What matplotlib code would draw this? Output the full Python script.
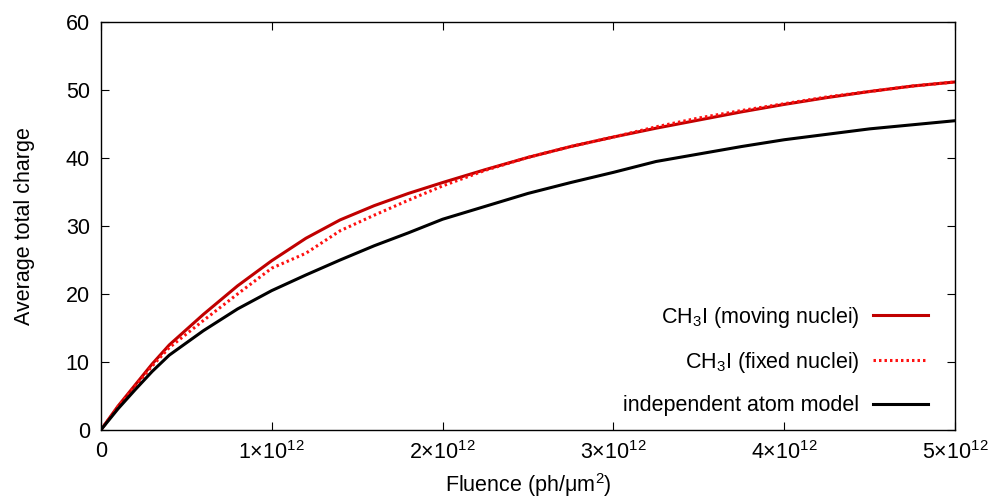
import numpy as np
import matplotlib
matplotlib.use("Agg")
import matplotlib.pyplot as plt

# fluence in units of 1e12 ph/um^2
fluence = [0, 0.1, 0.2, 0.3, 0.4, 0.6, 0.8, 1.0, 1.2, 1.4, 1.6, 1.8, 2.0, 2.25, 2.5,
           2.75, 3.0, 3.25, 3.5, 3.75, 4.0, 4.25, 4.5, 4.75, 5.0]

moving_nuclei = [0, 3.5, 6.6, 9.7, 12.5, 17.0, 21.2, 24.9, 28.2, 30.9, 33.0, 34.8, 36.4,
                 38.3, 40.1, 41.7, 43.1, 44.4, 45.6, 46.8, 47.9, 48.9, 49.8, 50.6, 51.2]
fixed_nuclei = [0, 3.4, 6.4, 9.4, 12.1, 16.1, 20.0, 23.8, 26.0, 29.3, 31.6, 33.8, 35.9,
                38.2, 40.1, 41.7, 43.1, 44.6, 45.9, 47.0, 48.0, 49.0, 49.8, 50.6, 51.2]
independent_atom = [0, 3.1, 5.9, 8.6, 11.0, 14.6, 17.8, 20.5, 22.8, 25.0, 27.1, 29.0, 31.0,
                    32.9, 34.8, 36.4, 37.9, 39.5, 40.6, 41.7, 42.7, 43.5, 44.3, 44.9, 45.5]

labels = ["CH$_3$I (moving nuclei)", "CH$_3$I (fixed nuclei)", "independent atom model"]
xtick_vals = [0, 1, 2, 3, 4, 5]
xtick_labels = ["0"] + [f"{v}\u00d710$^{{12}}$" for v in xtick_vals[1:]]

plt.rcParams["font.family"] = ["Liberation Sans", "DejaVu Sans"]
plt.rcParams["mathtext.default"] = "regular"

fig = plt.figure(figsize=(9.99, 5.04), dpi=100)
ax = fig.add_axes([0.101, 0.147, 0.855, 0.809])

x = np.array(fluence) * 1e12
ax.plot(x, moving_nuclei, color="#c00000", lw=2.2, label=labels[0])
ax.plot(x, fixed_nuclei, color="#ff1010", lw=2.2, linestyle=(0, (0.8, 1.0)), label=labels[1])
ax.plot(x, independent_atom, color="black", lw=2.2, label=labels[2])

ax.set_xlim(0, 5e12)
ax.set_ylim(0, 60)
ax.set_xticks(np.array(xtick_vals) * 1e12)
ax.set_xticklabels(xtick_labels)
ax.set_yticks(range(0, 61, 10))
ax.tick_params(direction="in", length=6, width=0.8, top=True, right=True,
               labelsize=15.5, pad=8)
for s in ax.spines.values():
    s.set_linewidth(1.0)

ax.set_xlabel("Fluence (ph/\u03bcm$^2$)", fontsize=15.5, labelpad=5)
ax.set_ylabel("Average total charge", fontsize=15.5, labelpad=22)

ax.legend(loc="lower right", bbox_to_anchor=(0.979, 0.012), borderaxespad=0,
          frameon=False, markerfirst=False, fontsize=15.5,
          handlelength=2.6, labelspacing=0.95, handletextpad=0.6)

fig.savefig("out.png", dpi=100)
